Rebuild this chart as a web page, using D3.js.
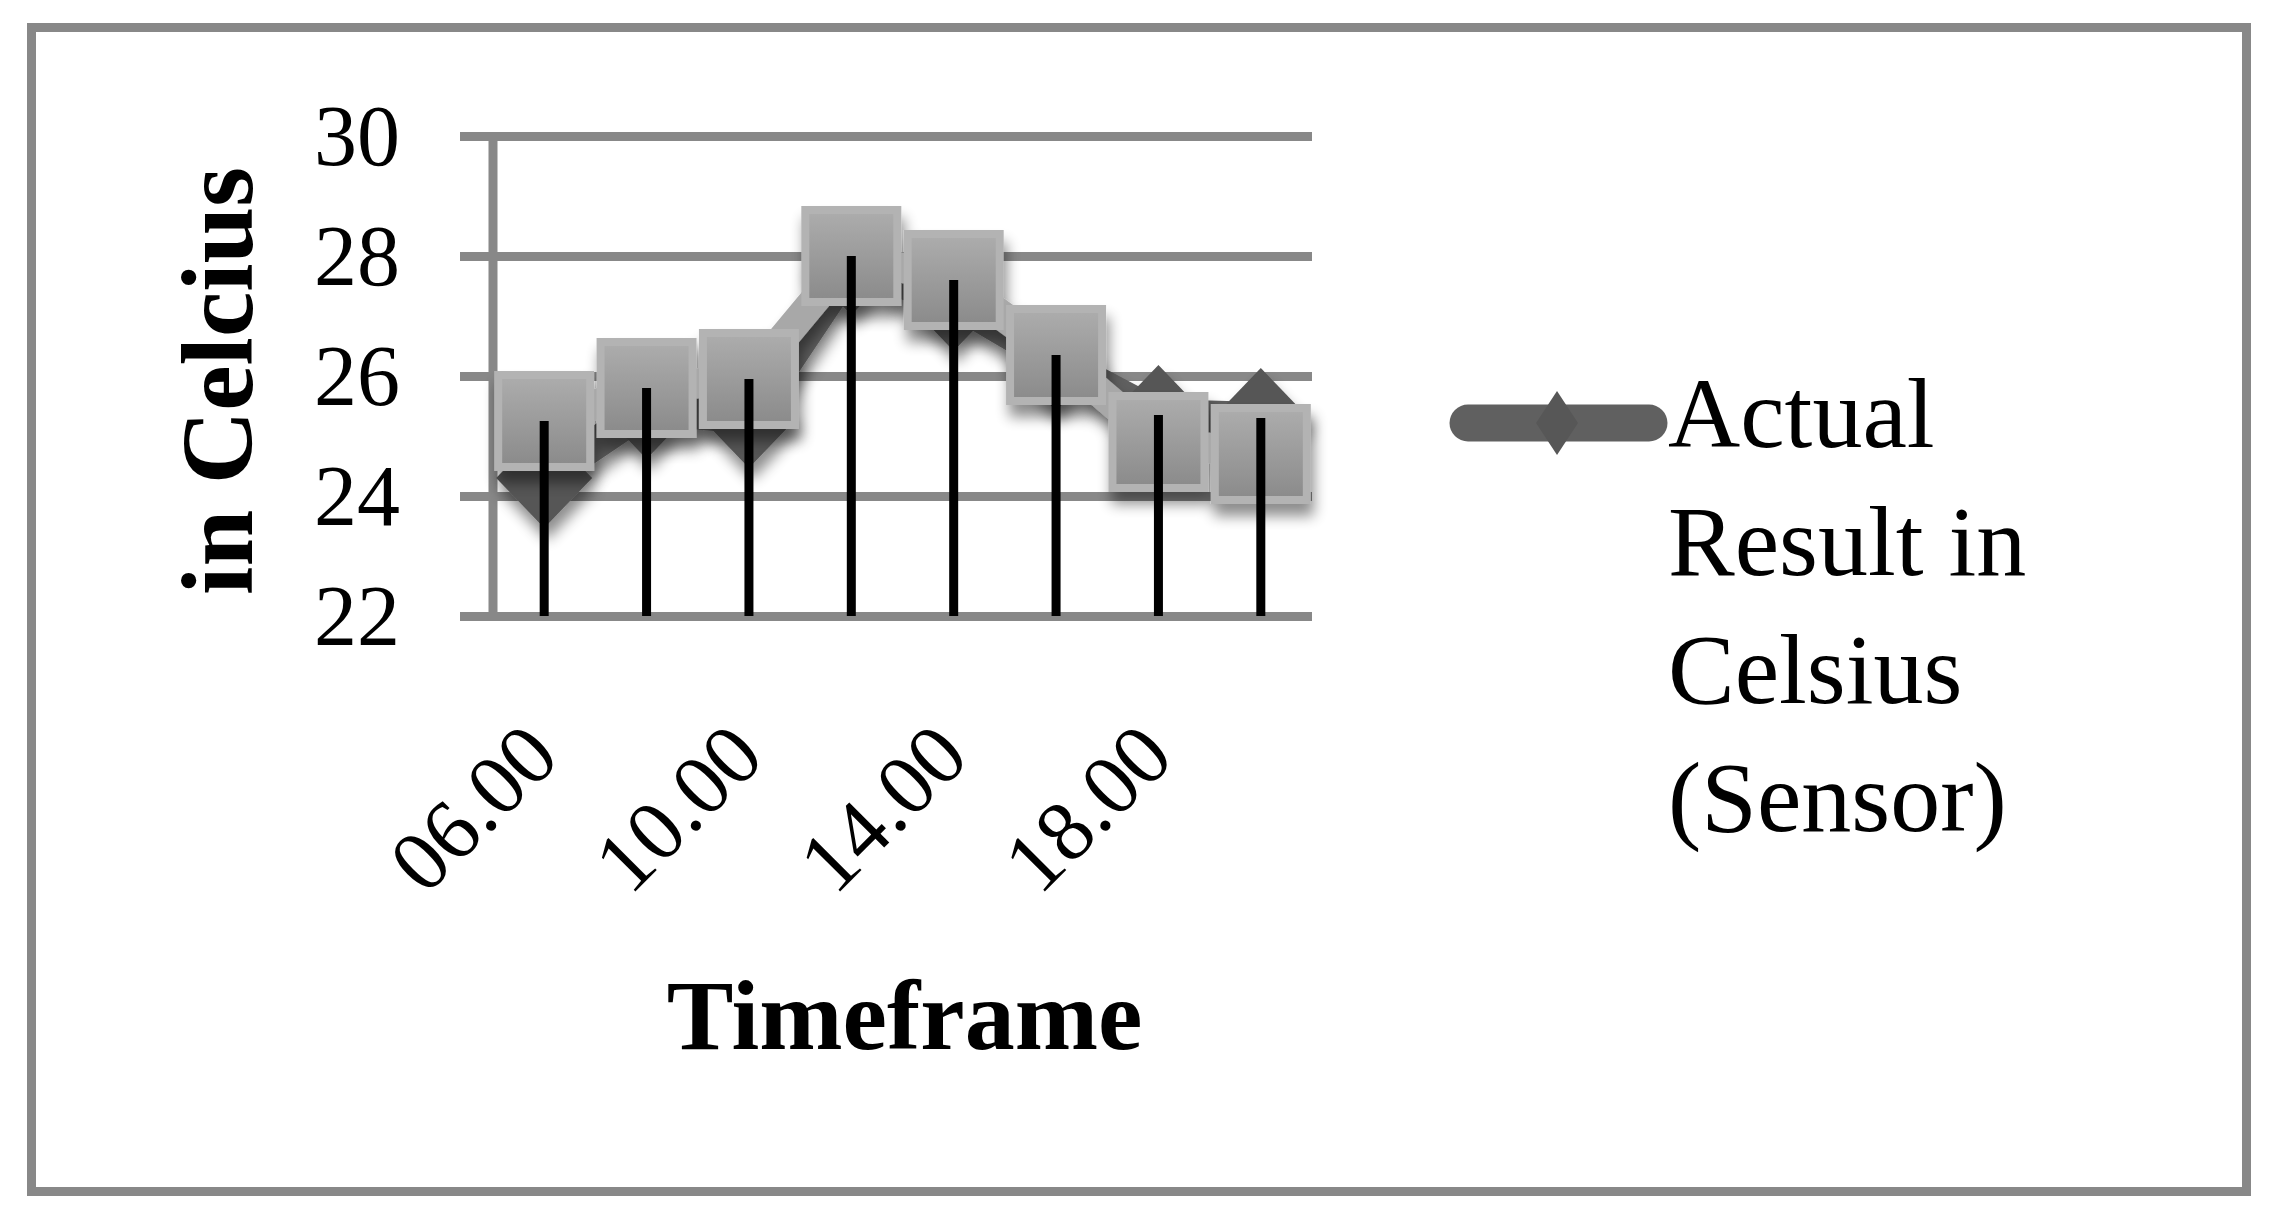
<!DOCTYPE html>
<html>
<head>
<meta charset="utf-8">
<script src="https://cdn.jsdelivr.net/npm/d3@7"></script>
<style>
  html, body { margin: 0; padding: 0; background: #fff; }
  svg { display: block; }
  text { font-family: 'Liberation Serif', 'Times New Roman', serif; fill: #000; }
</style>
</head>
<body>
<div id="chart"></div>
<script>
// Data
const categories = ['06.00', '08.00', '10.00', '12.00', '14.00', '16.00', '18.00', '20.00'];
const sensorValues = [24.3, 25.45, 25.3, 27.85, 27.25, 26.25, 25.35, 25.3];   // dark line, diamonds (legend series)
const secondValues = [25.25, 25.8, 25.95, 28.0, 27.6, 26.35, 24.9, 24.7];    // light line, square markers
const yTicks = [22, 24, 26, 28, 30];
const xTickLabels = ['06.00', '10.00', '14.00', '18.00'];
const legendLines = ['Actual', 'Result in', 'Celsius', '(Sensor)'];
const xTitle = 'Timeframe';
const yTitle = 'in Celcius';

const chart = {
    totalWidth: 2278,
    totalHeight: 1224,
    left: 493,
    right: 1312,
    top: 136,
    bottom: 616
};

const svg = d3.select('#chart')
    .append('svg')
    .attr('width', chart.totalWidth)
    .attr('height', chart.totalHeight);

// Filters and gradients
const defs = svg.append('defs');

const shadow = defs.append('filter')
    .attr('id', 'shadow')
    .attr('x', '-30%').attr('y', '-30%')
    .attr('width', '160%').attr('height', '160%');
shadow.append('feGaussianBlur').attr('in', 'SourceAlpha').attr('stdDeviation', 7).attr('result', 'blur');
shadow.append('feOffset').attr('in', 'blur').attr('dx', 3).attr('dy', 12).attr('result', 'off');
shadow.append('feComponentTransfer').attr('in', 'off').attr('result', 'soft')
    .append('feFuncA').attr('type', 'linear').attr('slope', 0.45);
const merge = shadow.append('feMerge');
merge.append('feMergeNode').attr('in', 'soft');
merge.append('feMergeNode').attr('in', 'SourceGraphic');

const grad = defs.append('linearGradient')
    .attr('id', 'squareFill')
    .attr('x1', 0).attr('y1', 0).attr('x2', 0).attr('y2', 1);
grad.append('stop').attr('offset', '0%').attr('stop-color', '#adadad');
grad.append('stop').attr('offset', '100%').attr('stop-color', '#8a8a8a');

// Frame
svg.append('rect')
    .attr('x', 31.5).attr('y', 27.5)
    .attr('width', 2215).attr('height', 1164)
    .attr('fill', 'none')
    .attr('stroke', '#888')
    .attr('stroke-width', 9);

// Scales
const xScale = d3.scaleBand()
    .domain(categories)
    .range([chart.left, chart.right]);
const cx = d => xScale(d) + xScale.bandwidth() / 2;

const yScale = d3.scaleLinear()
    .domain([22, 30])
    .range([chart.bottom, chart.top]);

// Y axis with gridlines
const yAxis = d3.axisLeft(yScale)
    .tickValues(yTicks)
    .tickSize(-(chart.right - 460))
    .tickPadding(60)
    .tickFormat(d3.format('d'));

const yAxisG = svg.append('g')
    .attr('transform', 'translate(460, 0)')
    .call(yAxis);
yAxisG.select('.domain').remove();
yAxisG.selectAll('.tick line')
    .attr('stroke', '#888')
    .attr('stroke-width', 9);
yAxisG.selectAll('.tick text')
    .attr('font-size', 86)
    .attr('dy', '0.33em');

svg.append('line')
    .attr('x1', chart.left).attr('x2', chart.left)
    .attr('y1', chart.top - 4).attr('y2', chart.bottom)
    .attr('stroke', '#888')
    .attr('stroke-width', 9);

// Dark series (line + diamonds)
const sensorData = categories.map((c, i) => ({ c, v: sensorValues[i] }));
const secondData = categories.map((c, i) => ({ c, v: secondValues[i] }));

const line = d3.line()
    .x(d => cx(d.c))
    .y(d => yScale(d.v));

const darkG = svg.append('g').attr('filter', 'url(#shadow)');
darkG.append('path')
    .attr('d', line(sensorData))
    .attr('fill', 'none')
    .attr('stroke', '#5e5e5e')
    .attr('stroke-width', 32)
    .attr('stroke-linejoin', 'round');

const diamond = (w, h) => `M0,${-h}L${w},0L0,${h}L${-w},0Z`;
darkG.selectAll('.diamond')
    .data(sensorData)
    .enter()
    .append('path')
    .attr('d', diamond(48, 50))
    .attr('transform', d => `translate(${cx(d.c)}, ${yScale(d.v)})`)
    .attr('fill', '#565656');

// Light series (line + squares)
const lightG = svg.append('g').attr('filter', 'url(#shadow)');
lightG.append('path')
    .attr('d', line(secondData))
    .attr('fill', 'none')
    .attr('stroke', '#a8a8a8')
    .attr('stroke-width', 30)
    .attr('stroke-linejoin', 'round');

lightG.selectAll('.square')
    .data(secondData)
    .enter()
    .append('rect')
    .attr('x', d => cx(d.c) - 46)
    .attr('y', d => yScale(d.v) - 46)
    .attr('width', 92)
    .attr('height', 92)
    .attr('fill', 'url(#squareFill)')
    .attr('stroke', '#b3b3b3')
    .attr('stroke-width', 8);

// Drop lines from highest point to axis
svg.append('g')
    .selectAll('line')
    .data(categories)
    .enter()
    .append('line')
    .attr('x1', d => cx(d))
    .attr('x2', d => cx(d))
    .attr('y1', (d, i) => yScale(Math.max(sensorValues[i], secondValues[i])))
    .attr('y2', chart.bottom)
    .attr('stroke', '#000')
    .attr('stroke-width', 9);

// X axis labels
const xAxis = d3.axisBottom(xScale)
    .tickValues(xTickLabels)
    .tickSize(0);

const xAxisG = svg.append('g')
    .attr('transform', `translate(0, ${chart.bottom})`)
    .call(xAxis);
xAxisG.select('.domain').remove();
xAxisG.selectAll('.tick text')
    .attr('font-size', 86)
    .attr('text-anchor', 'end')
    .attr('x', 0)
    .attr('y', 0)
    .attr('dy', 0)
    .attr('transform', 'translate(18, 144) rotate(-45)');

// Axis titles
svg.append('text')
    .attr('x', (chart.left + chart.right) / 2 + 2)
    .attr('y', 1049)
    .attr('text-anchor', 'middle')
    .attr('font-size', 100)
    .attr('font-weight', 'bold')
    .text(xTitle);

svg.append('text')
    .attr('transform', `translate(252, ${(chart.top + chart.bottom) / 2 + 5}) rotate(-90)`)
    .attr('text-anchor', 'middle')
    .attr('font-size', 102)
    .attr('font-weight', 'bold')
    .text(yTitle);

// Legend
const legend = svg.append('g').attr('transform', 'translate(1450, 423)');
legend.append('line')
    .attr('x1', 18).attr('x2', 199)
    .attr('y1', 0).attr('y2', 0)
    .attr('stroke', '#606060')
    .attr('stroke-width', 37)
    .attr('stroke-linecap', 'round');
legend.append('path')
    .attr('d', diamond(21, 32))
    .attr('transform', 'translate(107, 0)')
    .attr('fill', '#575757');

svg.append('g')
    .selectAll('text')
    .data(legendLines)
    .enter()
    .append('text')
    .attr('x', 1668)
    .attr('y', (d, i) => 447 + i * 128)
    .attr('font-size', 100)
    .text(d => d);
</script>
</body>
</html>
